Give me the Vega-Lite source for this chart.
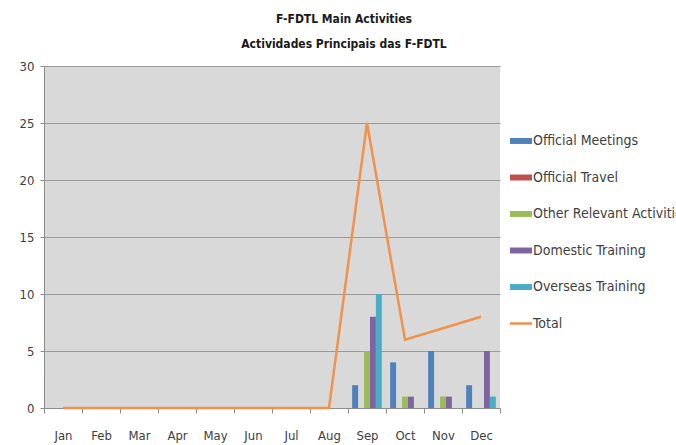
{
  "$schema": "https://vega.github.io/schema/vega-lite/v6.json",
  "width": 456,
  "height": 342,
  "autosize": "none",
  "padding": {"left": 44, "top": 66, "right": 176, "bottom": 37},
  "background": "white",
  "config": {
    "view": {"fill": "#d9d9d9", "stroke": null},
    "font": "DejaVu Sans Condensed, sans-serif"
  },
  "title": {
    "text": ["F-FDTL Main Activities", "Actividades Principais das F-FDTL"],
    "anchor": "middle",
    "dx": 72,
    "fontSize": 12,
    "fontWeight": "bold",
    "lineHeight": 25,
    "offset": 9,
    "color": "#1a1a1a"
  },
  "datasets": {
    "bars": [
      {"month": "Sep", "series": "Official Meetings", "value": 2},
      {"month": "Sep", "series": "Other Relevant Activities", "value": 5},
      {"month": "Sep", "series": "Domestic Training", "value": 8},
      {"month": "Sep", "series": "Overseas Training", "value": 10},
      {"month": "Oct", "series": "Official Meetings", "value": 4},
      {"month": "Oct", "series": "Other Relevant Activities", "value": 1},
      {"month": "Oct", "series": "Domestic Training", "value": 1},
      {"month": "Nov", "series": "Official Meetings", "value": 5},
      {"month": "Nov", "series": "Other Relevant Activities", "value": 1},
      {"month": "Nov", "series": "Domestic Training", "value": 1},
      {"month": "Dec", "series": "Official Meetings", "value": 2},
      {"month": "Dec", "series": "Domestic Training", "value": 5},
      {"month": "Dec", "series": "Overseas Training", "value": 1}
    ],
    "totals": [
      {"month": "Jan", "total": 0},
      {"month": "Feb", "total": 0},
      {"month": "Mar", "total": 0},
      {"month": "Apr", "total": 0},
      {"month": "May", "total": 0},
      {"month": "Jun", "total": 0},
      {"month": "Jul", "total": 0},
      {"month": "Aug", "total": 0},
      {"month": "Sep", "total": 25},
      {"month": "Oct", "total": 6},
      {"month": "Nov", "total": 7},
      {"month": "Dec", "total": 8}
    ]
  },
  "encoding": {
    "x": {
      "field": "month",
      "type": "nominal",
      "sort": ["Jan","Feb","Mar","Apr","May","Jun","Jul","Aug","Sep","Oct","Nov","Dec"],
      "scale": {"domain": ["Jan","Feb","Mar","Apr","May","Jun","Jul","Aug","Sep","Oct","Nov","Dec"], "paddingInner": 0, "paddingOuter": 0},
      "axis": {
        "title": null,
        "labelAngle": 0,
        "labelFontSize": 13,
        "labelColor": "#404040",
        "labelPadding": 16,
        "tickBand": "extent",
        "tickColor": "#8c8c8c",
        "tickSize": 5,
        "domainColor": "#8c8c8c",
        "grid": false
      }
    }
  },
  "layer": [
    {
      "data": {"name": "bars"},
      "mark": {"type": "bar"},
      "encoding": {
        "xOffset": {
          "field": "series",
          "type": "nominal",
          "scale": {
            "domain": ["Official Meetings","Official Travel","Other Relevant Activities","Domestic Training","Overseas Training"],
            "paddingOuter": 0.7,
            "paddingInner": 0
          }
        },
        "y": {
          "field": "value",
          "type": "quantitative",
          "scale": {"domain": [0, 30]},
          "axis": {
            "title": null,
            "values": [0,5,10,15,20,25,30],
            "labelFontSize": 13,
            "labelColor": "#404040",
            "labelPadding": 6,
            "gridColor": "#9a9a9a",
            "gridWidth": 1,
            "tickColor": "#8c8c8c",
            "tickSize": 4,
            "domainColor": "#8c8c8c"
          }
        },
        "color": {
          "field": "series",
          "type": "nominal",
          "scale": {
            "domain": ["Official Meetings","Official Travel","Other Relevant Activities","Domestic Training","Overseas Training","Total"],
            "range": ["#4f81bd","#c0504d","#9bbb59","#8064a2","#4bacc6","#f0924c"]
          },
          "legend": {
            "title": null,
            "orient": "none",
            "legendX": 470,
            "legendY": 68,
            "symbolSize": 484,
            "rowPadding": 22.5,
            "labelFontSize": 14,
            "labelColor": "#404040",
            "labelOffset": 5,
            "labelLimit": 300,
            "encode": {
              "symbols": {
                "update": {
                  "shape": {"signal": "datum.value === 'Total' ? 'M-1,0H1' : 'M-1,-0.27H1V0.27H-1Z'"},
                  "fill": {"signal": "datum.value === 'Total' ? 'transparent' : scale('color', datum.value)"},
                  "stroke": {"signal": "scale('color', datum.value)"},
                  "strokeWidth": {"signal": "datum.value === 'Total' ? 2.5 : 0"}
                }
              }
            }
          }
        }
      }
    },
    {
      "data": {"name": "totals"},
      "mark": {"type": "line", "strokeWidth": 2.5},
      "encoding": {
        "y": {"field": "total", "type": "quantitative"},
        "color": {"datum": "Total"}
      }
    }
  ]
}
